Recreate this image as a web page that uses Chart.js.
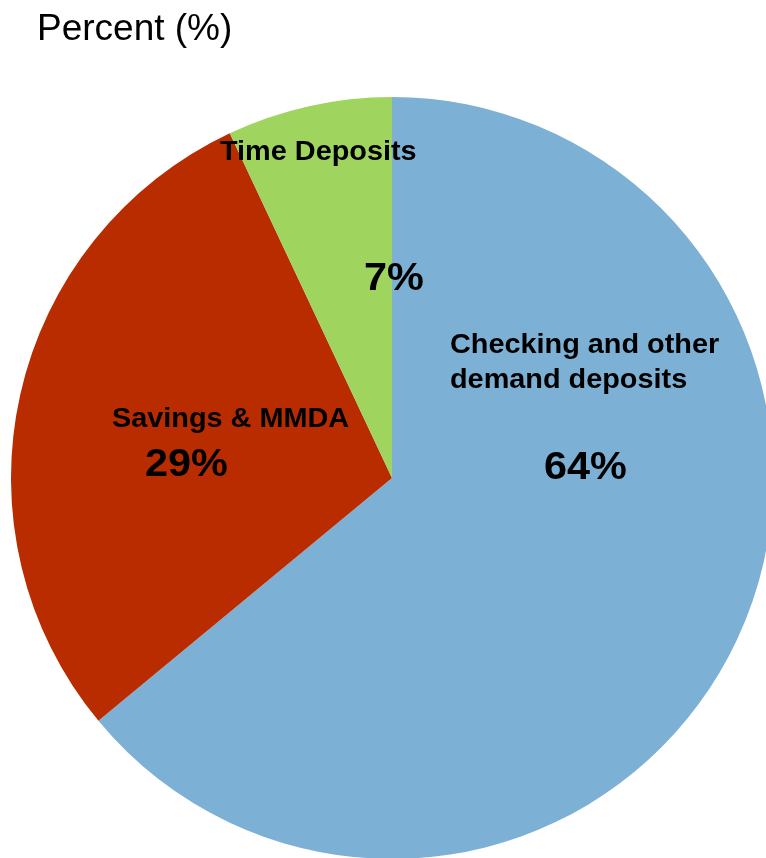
<!DOCTYPE html>
<html>
<head>
<meta charset="utf-8">
<title>Deposits by type</title>
<script src="https://cdn.jsdelivr.net/npm/chart.js@4"></script>
<style>
  html, body { margin: 0; padding: 0; background: #fff; overflow: hidden; }
  #wrap { position: relative; width: 800px; height: 900px; }
</style>
</head>
<body>
<div id="wrap"><canvas id="pie"></canvas></div>
<script>
// 存款构成（百分比）
const categories = ['Checking and other demand deposits', 'Savings & MMDA', 'Time Deposits'];
const shares = [64, 29, 7];
const sliceColors = ['#7DB0D5', '#B82C00', '#9FD45F'];

// 每块的标签行（名称可分行）
const labelLines = [
    ['Checking and other', 'demand deposits'],
    ['Savings & MMDA'],
    ['Time Deposits']
];

// 文字位置：名称左侧基线、百分比左侧基线
const labelPos = [
    { name: [450, 353, 388], pct: [544, 479] },
    { name: [112, 427], pct: [145, 476] },
    { name: [220, 160], pct: [364, 290] }
];

// 横向略拉宽的文字
function stretchText(ctx, text, x, y, sx) {
    ctx.save();
    ctx.translate(x, y);
    ctx.scale(sx, 1);
    ctx.fillText(text, 0, 0);
    ctx.restore();
}

const textPlugin = {
    id: 'pieText',
    afterDraw(chart) {
        const ctx = chart.ctx;
        ctx.save();
        ctx.fillStyle = '#000';
        ctx.textAlign = 'left';
        ctx.textBaseline = 'alphabetic';

        ctx.font = '37px "Liberation Sans", Arial, sans-serif';
        ctx.fillText('Percent (%)', 37, 40);

        shares.forEach((v, i) => {
            const p = labelPos[i];
            ctx.font = 'bold 28px "Liberation Sans", Arial, sans-serif';
            labelLines[i].forEach((line, j) => {
                stretchText(ctx, line, p.name[0], p.name[1 + j], 1.03);
            });
            ctx.font = 'bold 38px "Liberation Sans", Arial, sans-serif';
            stretchText(ctx, v + '%', p.pct[0], p.pct[1], 1.09);
        });
        ctx.restore();
    }
};

new Chart(document.getElementById('pie').getContext('2d'), {
    type: 'pie',
    data: {
        labels: categories,
        datasets: [{
            data: shares,
            backgroundColor: sliceColors,
            borderWidth: 0
        }]
    },
    options: {
        responsive: true,
        maintainAspectRatio: false,
        animation: false,
        layout: { padding: { left: 11, top: 97, right: 27, bottom: 41 } },
        plugins: {
            legend: { display: false },
            tooltip: { enabled: false }
        }
    },
    plugins: [textPlugin]
});
</script>
</body>
</html>
